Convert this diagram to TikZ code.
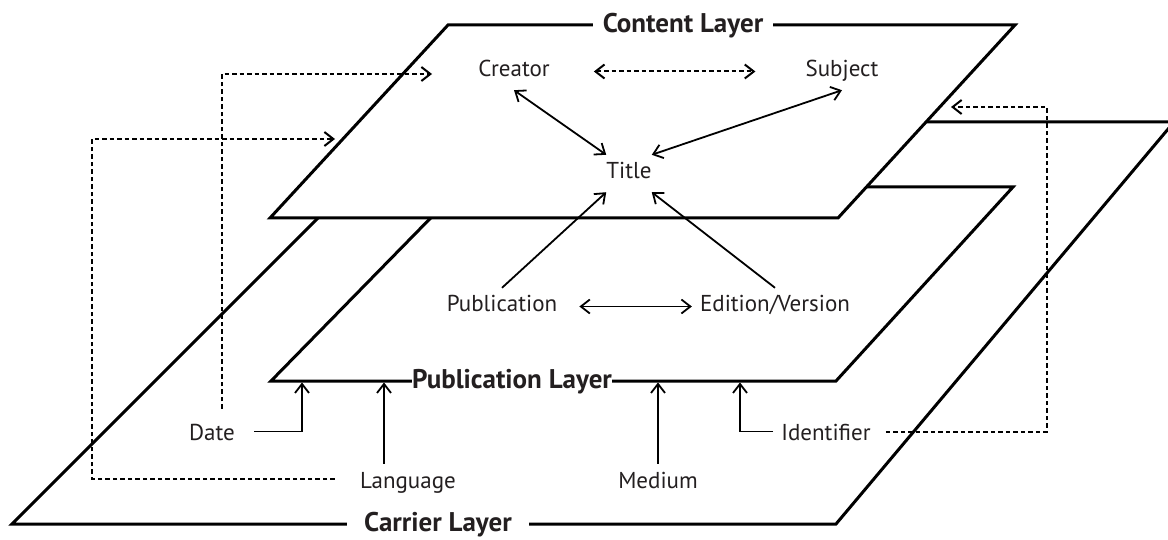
\documentclass[tikz,border=0pt]{standalone}
\usepackage{fontspec}
\setmainfont{PT Sans}
\usetikzlibrary{arrows.meta,positioning}

\definecolor{ink}{RGB}{35,31,32}
\newcommand\tagfont{\fontsize{23}{27}\selectfont}
\newcommand\layerfont{\fontsize{27}{31}\selectfont\bfseries}

\tikzset{
  tag/.style={text=ink, font=\tagfont, inner sep=8pt, text height=16pt, text depth=5pt},
  layer/.style={draw=black, line width=3pt, fill=white, line join=miter},
  layername/.style={text=ink, font=\layerfont, fill=white, inner ysep=2pt},
  link/.style={line width=1.8pt},
  hint/.style={link, line width=2pt, dash pattern=on 4.5pt off 3pt},
}

\begin{document}
\begin{tikzpicture}[x=1pt, y=-1pt, >={Straight Barb[length=9pt,width=14pt]}]
\path[use as bounding box, clip] (0,0) rectangle (1168,540);

% layers, back to front
\draw[layer] (414,122) -- (1174,122) -- (836,524) -- (12,524) -- cycle;
\node[layername, inner xsep=17pt] (carrier) at (438,525) {Carrier Layer};
\draw[layer] (461,187) -- (1013,187) -- (836,381) -- (271,381) -- cycle;
\node[layername, inner xsep=0pt] (publayer) at (512,382) {Publication Layer};
\draw[layer] (448,25) -- (1015,25) -- (838,218) -- (270,218) -- cycle;
\node[layername, inner xsep=10pt] (contentlayer) at (683,26) {Content Layer};

% elements
\node[tag] (creator) at (514,71.5) {Creator};
\node[tag, right of=creator, node distance=328pt] (subject) {Subject};
\node[tag, inner xsep=0pt] (title) at (629,173.5) {Title};
\node[tag] (publication) at (502,306.5) {Publication};
\node[tag, right of=publication, node distance=273pt] (edition) {Edition/Version};
\node[tag] (date) at (212,434.5) {Date};
\node[tag, right of=date, node distance=614pt] (identifier) {Identifier};
\node[tag] (language) at (408,482.5) {Language};
\node[tag, right of=language, node distance=250pt] (medium) {Medium};

\coordinate (dateIn) at (302,382.5);
\coordinate (langIn) at (384,382.5);
\coordinate (idIn) at (740,382.5);
\coordinate (dateBend) at (222,74);
\coordinate (dateTip) at (432,74);
\coordinate (langBend) at (92,139);
\coordinate (langTip) at (335,139);
\coordinate (idBend) at (1047,107);
\coordinate (idTip) at (951,107);

% content layer
\draw[link, <->] (creator.south) -- (title.north west);
\draw[link, <->] (subject.south) -- (title.north east);
\draw[hint, <->, shorten <=36pt, shorten >=42pt] (creator.east) -- (subject.west);

% publication layer
\draw[link, ->] (publication.north) -- (title.south west);
\draw[link, ->] (edition.north) -- (title.south east);
\draw[link, <->, shorten <=14pt] (publication.east) -- (edition.west);

% carrier layer
\draw[link, ->, shorten <=11pt] ([yshift=3pt]date.east) -| (dateIn);
\draw[link, ->] (langIn |- language.north) -- (langIn);
\draw[link, ->] (medium.north) -- (medium.north |- dateIn);
\draw[link, ->] ([yshift=3pt]identifier.west) -| (idIn);

% links up to the content layer
\draw[hint, ->, shorten <=7pt] (dateBend |- date.north) -- (dateBend) -- (dateTip);
\draw[hint, ->, shorten <=17pt] ([yshift=4pt]language.west) -| (langBend) -- (langTip);
\draw[hint, ->, shorten <=7pt] ([yshift=3pt]identifier.east) -| (idBend) -- (idTip);
\end{tikzpicture}
\end{document}
